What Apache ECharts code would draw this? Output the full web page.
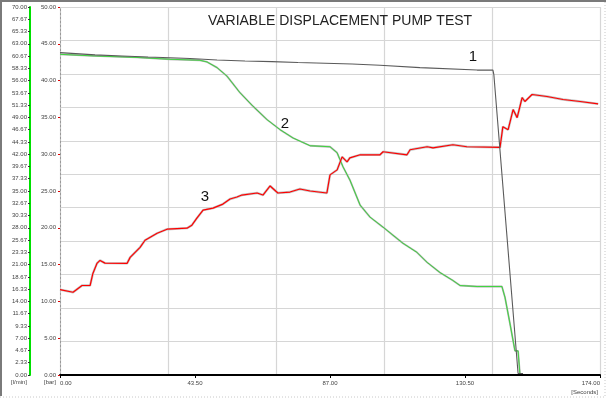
<!DOCTYPE html>
<html>
<head>
<meta charset="utf-8">
<script src="https://cdn.jsdelivr.net/npm/echarts@6/dist/echarts.min.js"></script>
<style>
  html, body { margin: 0; padding: 0; background: #fff; }
  #chart { width: 606px; height: 398px; }
</style>
</head>
<body>
<div id="chart"></div>
<script>
// curve 1 - [seconds, bar]
var curve1 = [
  [0, 43.8], [11.3, 43.5], [20, 43.35], [28.4, 43.2], [37.7, 43.07], [41.9, 43.0],
  [50.6, 42.8], [59.6, 42.66], [68.3, 42.58], [76.7, 42.45], [94.1, 42.25], [103.1, 42.08],
  [116, 41.76], [134.4, 41.43], [139.5, 41.43], [139.8, 40.8], [147.6, 0.2], [149.2, 0.2]
];

// curve 2 - [seconds, l/min]
var curve2 = [
  [0, 61.0], [10.6, 60.7], [24.8, 60.4], [35.4, 60.06], [45.1, 59.87], [47.4, 59.54],
  [50.6, 58.47], [53.8, 56.86], [58.0, 53.69], [62.2, 51.12], [66.7, 48.58], [70.9, 46.67],
  [75.1, 45.08], [80.6, 43.61], [87.0, 43.42], [89.3, 42.27], [91.2, 39.59], [93.4, 37.10],
  [96.7, 32.32], [99.9, 30.03], [104.1, 28.12], [107.3, 26.59], [110.5, 25.06], [115.0, 23.33],
  [118.3, 21.42], [122.4, 19.51], [126.6, 17.98], [128.9, 17.02], [134.4, 16.83], [142.4, 16.83],
  [143.4, 14.73], [145.0, 9.75], [146.6, 4.59], [147.6, 4.59], [148.2, 0.2]
];

// curve 3 - [seconds, bar]
var curve3 = [
  [0, 11.61], [4.2, 11.24], [7.1, 12.16], [9.7, 12.16], [10.6, 13.8], [11.9, 15.16],
  [12.9, 15.57], [14.5, 15.2], [21.6, 15.16], [22.6, 15.98], [25.8, 17.35], [27.4, 18.31],
  [31.3, 19.26], [34.5, 19.81], [40.9, 19.95], [42.5, 20.36], [44.1, 21.31], [46.1, 22.4],
  [49.3, 22.68], [52.5, 23.22], [54.8, 23.91], [57.0, 24.18], [58.6, 24.45], [63.5, 24.73],
  [65.4, 24.45], [67.7, 25.68], [70.2, 24.73], [74.1, 24.86], [77.3, 25.27], [80.6, 25.0],
  [86.0, 24.73], [87.0, 27.19], [89.3, 27.87], [90.9, 29.64], [92.5, 28.96], [93.4, 29.51],
  [96.7, 29.92], [103.1, 29.92], [104.1, 30.33], [111.8, 29.92], [112.8, 30.6], [118.3, 31.01],
  [120.2, 30.87], [126.6, 31.28], [131.1, 31.01], [141.8, 30.94], [142.7, 33.74], [144.4, 33.33],
  [146.0, 36.07], [147.3, 34.97], [148.2, 36.48], [148.9, 37.7], [149.8, 37.16], [152.1, 38.11],
  [156.9, 37.84], [162.1, 37.43], [167.6, 37.16], [173.4, 36.83]
];

var font = 'Liberation Sans, Arial, sans-serif';
var labelFont = { fontSize: 6, color: '#444', fontFamily: font };

var chart = echarts.init(document.getElementById('chart'));

var option = {
  backgroundColor: '#fff',
  animation: false,
  title: {
    text: 'VARIABLE DISPLACEMENT PUMP TEST',
    left: 335,
    textAlign: 'center',
    top: 9,
    textStyle: { fontSize: 14, fontWeight: 'normal', color: '#222', fontFamily: font }
  },
  grid: { left: 60, right: 6, top: 7, bottom: 23, outerBoundsMode: 'none', containLabel: false },
  xAxis: [
    {
      type: 'value',
      min: 0, max: 174, interval: 43.5,
      axisLine: { onZero: false, lineStyle: { color: '#000', width: 2 } },
      axisTick: { show: true, length: 3, lineStyle: { color: '#000' } },
      axisLabel: Object.assign({ margin: 5, alignMinLabel: 'left', alignMaxLabel: 'right',
        formatter: function (v) { return v.toFixed(2); } }, labelFont),
      splitLine: { show: false }
    },
    {
      type: 'value',
      min: 0, max: 5, interval: 1,
      axisLine: { show: false }, axisTick: { show: false }, axisLabel: { show: false },
      splitLine: { show: true, lineStyle: { color: '#d6d6d6', width: 1.2 } }
    }
  ],
  yAxis: [
    {
      type: 'value',
      position: 'left',
      offset: 30,
      min: 0, max: 70, interval: 70 / 30,
      axisLine: { show: true, onZero: false, lineStyle: { color: '#00e000', width: 2 } },
      axisTick: { show: true, length: 2, lineStyle: { color: '#333' } },
      axisLabel: Object.assign({ margin: 3, showMinLabel: true, showMaxLabel: true,
        formatter: function (v) { return v.toFixed(2); } }, labelFont),
      splitLine: { show: false }
    },
    {
      type: 'value',
      position: 'left',
      min: 0, max: 50, interval: 5,
      axisLine: { show: true, onZero: false, lineStyle: { color: '#999', width: 1, type: [2, 2] } },
      axisTick: { show: true, length: 2, lineStyle: { color: '#e00000' } },
      axisLabel: Object.assign({ margin: 4, formatter: function (v) { return v.toFixed(2); } }, labelFont),
      splitLine: { show: false }
    },
    {
      type: 'value',
      min: 0, max: 11, interval: 1,
      axisLine: { show: false }, axisTick: { show: false }, axisLabel: { show: false },
      splitLine: { show: true, lineStyle: { color: '#d6d6d6', width: 1.2 } }
    }
  ],
  series: [
    {
      name: 'flow halo', type: 'line', yAxisIndex: 0, data: curve2, showSymbol: false,
      lineStyle: { color: '#b0b0b0', width: 1.8 }, z: 3
    },
    {
      name: 'flow', type: 'line', yAxisIndex: 0, data: curve2, showSymbol: false,
      lineStyle: { color: '#22dd22', width: 0.8 }, z: 4
    },
    {
      name: 'pressure halo', type: 'line', yAxisIndex: 1, data: curve3, showSymbol: false,
      lineStyle: { color: '#c4c4c4', width: 2.4 }, z: 3
    },
    {
      name: 'pressure', type: 'line', yAxisIndex: 1, data: curve3, showSymbol: false,
      lineStyle: { color: '#ff0000', width: 1.2 }, z: 4
    },
    {
      name: 'displacement', type: 'line', yAxisIndex: 1, data: curve1, showSymbol: false,
      lineStyle: { color: '#5a5a5a', width: 1.1 }, z: 5
    }
  ],
  graphic: [
    { type: 'rect', shape: { x: 0, y: 0, width: 606, height: 2 }, style: { fill: '#7a7a7a' } },
    { type: 'rect', shape: { x: 0, y: 0, width: 2, height: 396 }, style: { fill: '#7a7a7a' } },
    { type: 'line', shape: { x1: 0, y1: 397, x2: 606, y2: 397 }, style: { stroke: '#c8c8c8', lineWidth: 1, lineDash: [1, 2] } },
    { type: 'line', shape: { x1: 605, y1: 2, x2: 605, y2: 397 }, style: { stroke: '#c8c8c8', lineWidth: 1, lineDash: [1, 2] } },
    { type: 'text', x: 27, y: 379, style: { text: '[l/min]', fontSize: 6, fill: '#444', align: 'right', fontFamily: font } },
    { type: 'text', x: 56, y: 379, style: { text: '[bar]', fontSize: 6, fill: '#444', align: 'right', fontFamily: font } },
    { type: 'text', x: 598, y: 389, style: { text: '[Seconds]', fontSize: 6, fill: '#444', align: 'right', fontFamily: font } },
    { type: 'text', x: 473, y: 57, style: { text: '1', fontSize: 15, fill: '#111', align: 'center', verticalAlign: 'middle', fontFamily: font } },
    { type: 'text', x: 285, y: 124, style: { text: '2', fontSize: 15, fill: '#111', align: 'center', verticalAlign: 'middle', fontFamily: font } },
    { type: 'text', x: 205, y: 197, style: { text: '3', fontSize: 15, fill: '#111', align: 'center', verticalAlign: 'middle', fontFamily: font } }
  ]
};

chart.setOption(option);
</script>
</body>
</html>
